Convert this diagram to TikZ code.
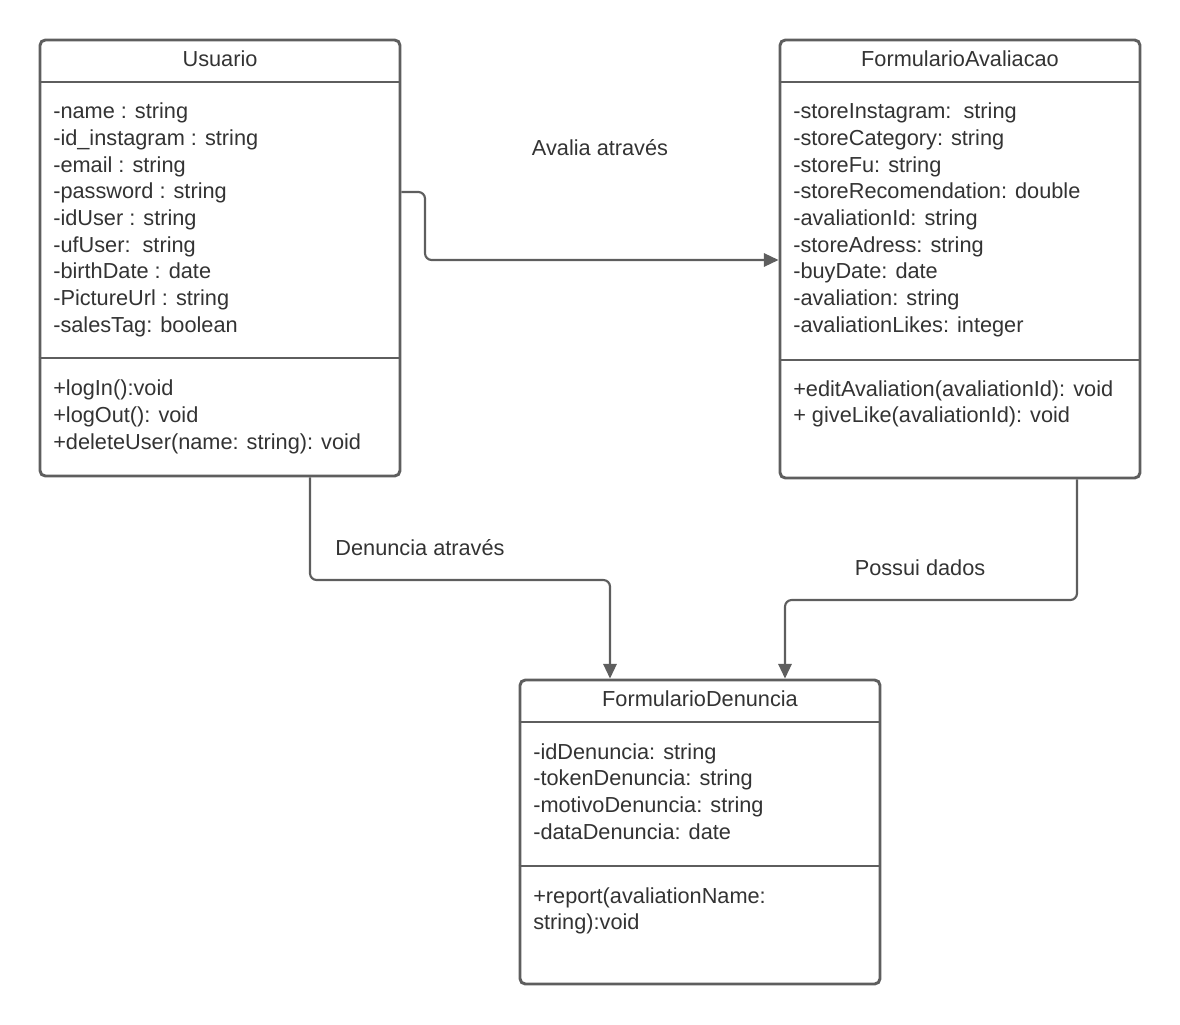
\documentclass[tikz,border=0pt]{standalone}
\usepackage{fontspec}
\setmainfont{Liberation Sans}
\usetikzlibrary{arrows.meta,backgrounds}
\pgfdeclarelayer{edgelayer}
\pgfdeclarelayer{nodelayer}
\pgfsetlayers{edgelayer,nodelayer,main}
\definecolor{linegray}{HTML}{5E5E5E}
\definecolor{textgray}{HTML}{333333}
\tikzset{font=\fontsize{16.3}{20}\selectfont}
\tikzstyle{classbox}=[draw=linegray,line width=2.2pt,rounded corners=4pt,inner sep=0pt,fill=white]
\tikzstyle{title}=[inner sep=0pt,text=textgray,anchor=center]
\tikzstyle{members}=[inner sep=0pt,text=textgray,anchor=base west,align=left]
\tikzstyle{divider}=[draw=linegray,line width=2.2pt]
\tikzstyle{conn}=[draw=linegray,line width=1.6pt,rounded corners=5pt,-{Triangle[length=11pt,width=10pt]}]
\tikzstyle{rel}=[inner sep=0pt,text=textgray,anchor=center]

\begin{document}
\begin{tikzpicture}[x=0.75pt,y=-0.75pt]
	\useasboundingbox (0,0) rectangle (1180,1024);
	\begin{pgfonlayer}{nodelayer}
		% Usuario (members anchored on their last baseline)
		\node [classbox,minimum width=270pt,minimum height=327pt] (usuario) at (220,258) {};
		\node [title] (usuario-t) at (220,59) {Usuario};
		\node [members] (usuario-a) at (53,332.3) {-name : string\\-id\_instagram : string\\-email : string\\-password : string\\-idUser : string\\-ufUser:\ \ string\\-birthDate : date\\-PictureUrl : string\\-salesTag: boolean};
		\node [members] (usuario-m) at (53,449.3) {+logIn():void\\+logOut(): void\\+deleteUser(name: string): void};
		% FormularioAvaliacao
		\node [classbox,minimum width=270pt,minimum height=328.5pt] (avaliacao) at (960,259) {};
		\node [title] (avaliacao-t) at (960,59) {FormularioAvaliacao};
		\node [members] (avaliacao-a) at (793,332.3) {-storeInstagram:\ \ string\\-storeCategory: string\\-storeFu: string\\-storeRecomendation: double\\-avaliationId: string\\-storeAdress: string\\-buyDate: date\\-avaliation: string\\-avaliationLikes: integer};
		\node [members] (avaliacao-m) at (793,422.7) {+editAvaliation(avaliationId): void\\+ giveLike(avaliationId): void};
		% FormularioDenuncia
		\node [classbox,minimum width=270pt,minimum height=228pt] (denuncia) at (700,832) {};
		\node [title] (denuncia-t) at (700,699) {FormularioDenuncia};
		\node [members] (denuncia-a) at (533,839) {-idDenuncia: string\\-tokenDenuncia: string\\-motivoDenuncia: string\\-dataDenuncia: date};
		\node [members] (denuncia-m) at (533,929.7) {+report(avaliationName:\\string):void};
		% relation labels
		\node [rel] (avalia) at (600,148) {Avalia através};
		\node [rel] (denuncia-l) at (420,548) {Denuncia através};
		\node [rel] (possui) at (920,568) {Possui dados};
	\end{pgfonlayer}
	\begin{pgfonlayer}{main}
		\draw [divider] (usuario.west |- 0,82) -- (usuario.east |- 0,82);
		\draw [divider] (usuario.west |- 0,358) -- (usuario.east |- 0,358);
		\draw [divider] (avaliacao.west |- 0,82) -- (avaliacao.east |- 0,82);
		\draw [divider] (avaliacao.west |- 0,360) -- (avaliacao.east |- 0,360);
		\draw [divider] (denuncia.west |- 0,722) -- (denuncia.east |- 0,722);
		\draw [divider] (denuncia.west |- 0,866) -- (denuncia.east |- 0,866);
	\end{pgfonlayer}
	\begin{pgfonlayer}{edgelayer}
		\draw [conn] (usuario.east |- 0,192) -- (425,192) -- (425,260) -- (avaliacao.west |- 0,260);
		\draw [conn] (usuario.south -| 310,0) -- (310,580) -- (610,580) -- (denuncia.north -| 610,0);
		\draw [conn] (avaliacao.south -| 1077,0) -- (1077,600) -- (785,600) -- (denuncia.north -| 785,0);
	\end{pgfonlayer}
\end{tikzpicture}
\end{document}
